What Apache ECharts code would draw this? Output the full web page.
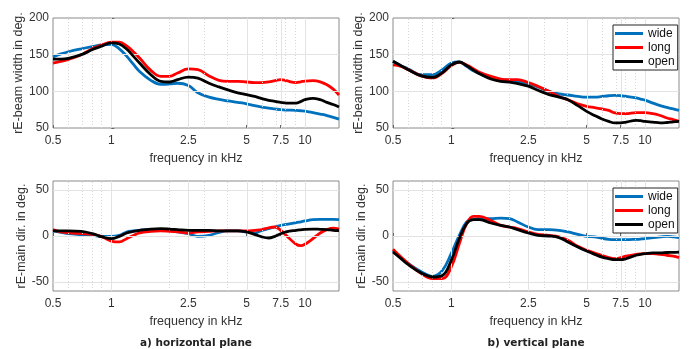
<!DOCTYPE html>
<html><head><meta charset="utf-8">
<script src="https://cdn.jsdelivr.net/npm/echarts@6/dist/echarts.min.js"></script>
<style>html,body{margin:0;padding:0;background:#fff}#c{width:689px;height:349px}</style>
</head><body><div id="c"></div>
<script>
// ---- data (frequency in kHz) ----
const freqKHz = [0.5,0.55,0.6,0.7,0.8,0.9,1.0,1.1,1.2,1.3,1.4,1.6,1.8,2.0,2.2,2.5,2.8,3.2,3.6,4,4.5,5,5.5,6,6.5,7,7.5,8,9,9.5,10,11,12,13,14,15];
const seriesNames = ['wide','long','open'];
const xTickLabels = [0.5,1,2.5,5,7.5,10];
const xMinorGrid = [0.6,0.7,0.8,0.9,2,3,4,6,7,8,9];
const yTicksWidth = [50,100,150,200];
const yTicksDir = [-50,0,50];
const subtitles = ['a) horizontal plane','b) vertical plane'];

// horizontal plane, beam width
const hWidthWide = [147,151,154,158,161,163.5,164,158,148,137,127,115,109.5,110,111,108,98,92,89,87,85,83,80.5,78.5,77,76,75,74.5,74,73.5,73,71,69,67,64.5,62];
const hWidthLong = [138.6,141,143.5,150,158,163.6,167,167,162,154,145.5,128.6,120.5,120.5,125,130.5,129.5,121,115,113.6,113.6,112.7,112,112,113,114.5,116,114.5,112,113,114,114.5,113,109,103,95];
const hWidthOpen = [144,144,145,150,157,162,166,164.5,157.7,148,138.6,122.7,113.6,112.7,116,119.5,118,111,106,102,98,95.5,93,90,87.7,86.4,85,84,84,86,88.6,90.5,88.6,85,82,78.6];
// vertical plane, beam width
const vWidthWide = [141,135,130.5,122.7,122.7,129.5,138.6,140,134,128,124,118,116,115,113.6,110.5,106,100,96.4,95,93,92,92,93,94,94.5,94,93,91,89.5,88,84,80.5,78,76,74];
const vWidthLong = [136,134,129.5,121,118,125,135,139.5,136,131,126,120.5,116.8,116,116,112,107,100,93,88.6,83,79.5,77.7,76,74,70.5,69.5,69.5,71,71,71,69.5,67,63.6,61.4,59];
const vWidthOpen = [141,135,129.5,121,119,125.5,136,140,135,129,124,116.8,113.6,112.7,110.5,107,101.4,95.5,92,88.6,80.5,72.7,67,62.3,59,57,57,58,60.5,60,59,58,57,57.5,58.4,59];
// horizontal plane, main direction
const hDirWide = [5.5,4,2.5,1.5,0.7,-0.4,-0.4,0.7,4.4,5.5,6.2,7,7,6.2,4.4,2.5,-0.4,0.7,4,5.5,5.5,4.4,3.3,6.2,8,9.8,11.6,12.7,14.5,15.5,16.4,17.8,18.2,18.2,18.2,17.8];
const hDirLong = [7,4.4,3.3,2.5,1.8,-1,-5.5,-6.5,-2.9,0.5,3.3,5,5.5,5,4.4,3.3,4.4,5,5.5,5.5,5.5,5.5,6.2,7,9,9.8,6.2,0.7,-9,-10.5,-9,-2.9,3.3,7,8.7,7.6];
const hDirOpen = [5.5,5.5,5.5,5,2.5,-1,-2.9,-0.4,3.3,5,6.2,7.6,8,7.6,7,6.2,6.2,6.2,5.5,5.5,5.5,4.4,1.8,-1,-2.2,-0.4,2.5,4.4,6.2,6.8,7.3,7.6,7.3,7,6.2,5.8];
// vertical plane, main direction
const vDirWide = [-15.6,-23.6,-30,-39,-44,-37.5,-19,0.7,15.3,18,19,19,19.6,19,15.3,9.8,7,7,6.2,4.4,1.8,-0.4,-1,-2.5,-3.6,-4,-4,-4,-3.6,-3.3,-2.9,-1.8,-1,-0.4,-1,-1.8];
const vDirLong = [-14.5,-23,-30,-41,-46.5,-46.5,-33.8,-8.4,13.5,21.5,21.5,17,11.6,9.8,8,4.4,1.8,0.7,-1,-4.7,-11.3,-15.6,-18.5,-21,-23.6,-24.7,-23.6,-22,-20,-19.5,-19.3,-19.3,-20,-21,-22,-23.6];
const vDirOpen = [-17.5,-24.7,-31.3,-40.4,-44.7,-43,-26.5,-2.9,13.5,17.8,17.8,14.2,11.6,9.8,7,3.3,0.7,0,-1.8,-6.5,-12,-16.4,-20,-23,-24.7,-25.8,-25.8,-24.7,-21,-20,-19.3,-18.5,-18.5,-18,-17.8,-17.5];

// ---- chart ----
const colors = {wide:'#0072BD', long:'#FF0000', open:'#000000'};
const LMIN = Math.log10(0.5), LMAX = Math.log10(15);
const lg = v => Math.log10(v);
const txt = '#333333';
const font = 'Liberation Sans';

const gridsPos = [
  {left:53, top:18}, {left:393, top:18}, {left:53, top:181}, {left:393, top:181}
];
const panels = [
  {vals:[hWidthWide,hWidthLong,hWidthOpen], ymin:50, ymax:200, yt:yTicksWidth, name:'rE-beam width in deg.'},
  {vals:[vWidthWide,vWidthLong,vWidthOpen], ymin:50, ymax:200, yt:yTicksWidth, name:'rE-beam width in deg.'},
  {vals:[hDirWide,hDirLong,hDirOpen], ymin:-60, ymax:60, yt:yTicksDir, name:'rE-main dir. in deg.'},
  {vals:[vDirWide,vDirLong,vDirOpen], ymin:-60, ymax:60, yt:yTicksDir, name:'rE-main dir. in deg.'}
];

const grid = gridsPos.map(p => ({left:p.left, top:p.top, width:286, height:110, show:true, borderColor:'#8a8a8a', borderWidth:1, backgroundColor:'#fff'}));
const xAxis = panels.map((p,i) => ({
  type:'value', gridIndex:i, min:LMIN, max:LMAX,
  axisLine:{show:false}, splitLine:{show:false},
  axisTick:{show:true, inside:true, length:3, customValues:xTickLabels.map(lg), lineStyle:{color:'#666'}},
  axisLabel:{customValues:xTickLabels.map(lg), formatter:v => String(Math.round(Math.pow(10,v)*100)/100), fontSize:12, color:txt, fontFamily:font, margin:7},
  name:'frequency in kHz', nameLocation:'middle', nameGap:24, nameTextStyle:{fontSize:12.5, color:txt, fontFamily:font}
}));
const yAxis = panels.map((p,i) => ({
  type:'value', gridIndex:i, min:p.ymin, max:p.ymax,
  axisLine:{show:false}, splitLine:{show:false},
  axisTick:{show:true, inside:true, length:3, customValues:p.yt, lineStyle:{color:'#666'}},
  axisLabel:{customValues:p.yt, fontSize:12, color:txt, fontFamily:font, margin:4},
  name:p.name, nameLocation:'middle', nameGap:24, nameTextStyle:{fontSize:12.5, color:txt, fontFamily:font}
}));

const series = [];
panels.forEach((p,i) => {
  const ml = [];
  xTickLabels.forEach(v => { if (v > 0.5) ml.push({xAxis:lg(v), lineStyle:{color:'#e3e3e3', type:'solid', width:1}}); });
  xMinorGrid.forEach(v => ml.push({xAxis:lg(v), lineStyle:{color:'#d6d6d6', type:[1,2], width:1}}));
  p.yt.forEach(v => { if (v > p.ymin && v < p.ymax) ml.push({yAxis:v, lineStyle:{color:'#e3e3e3', type:'solid', width:1}}); });
  series.push({
    type:'line', xAxisIndex:i, yAxisIndex:i, z:1, silent:true, showSymbol:false,
    data:[[LMIN, p.ymin]], lineStyle:{opacity:0},
    markLine:{silent:true, symbol:['none','none'], label:{show:false}, animation:false, data:ml}
  });
  seriesNames.forEach((n,k) => {
    series.push({
      name:n, type:'line', xAxisIndex:i, yAxisIndex:i, z:3+k,
      showSymbol:false, symbol:'none', smooth:0.4, color:colors[n],
      itemStyle:{color:colors[n], borderWidth:0},
      lineStyle:{width:2.8, color:colors[n], type:'solid'},
      data:freqKHz.map((f,j) => [lg(f), p.vals[k][j]])
    });
  });
});

const legendBase = {
  orient:'vertical', left:613, z:20, icon:'path://M0 0H28V3H0Z', itemWidth:28, itemHeight:3, itemGap:1,
  data:seriesNames.map(n => ({name:n, itemStyle:{color:colors[n], borderWidth:0, opacity:1}})),
  itemStyle:{borderWidth:0},
  padding:[2,3,2,2], borderColor:'#262626', borderWidth:1, backgroundColor:'#fff',
  textStyle:{fontSize:12, lineHeight:13, color:'#111', fontFamily:font}, selectedMode:false
};

const chart = echarts.init(document.getElementById('c'), null, {renderer:'canvas'});
chart.setOption({
  animation:false,
  backgroundColor:'#fff',
  grid, xAxis, yAxis, series,
  legend:[Object.assign({}, legendBase, {top:25}), Object.assign({}, legendBase, {top:188})],
  graphic:[
    {type:'text', x:196, y:343, style:{text:subtitles[0], textAlign:'center', textVerticalAlign:'middle', font:'bold 10.5px "DejaVu Sans"', fill:'#222'}},
    {type:'text', x:536, y:343, style:{text:subtitles[1], textAlign:'center', textVerticalAlign:'middle', font:'bold 10.5px "DejaVu Sans"', fill:'#222'}}
  ]
});
</script></body></html>
